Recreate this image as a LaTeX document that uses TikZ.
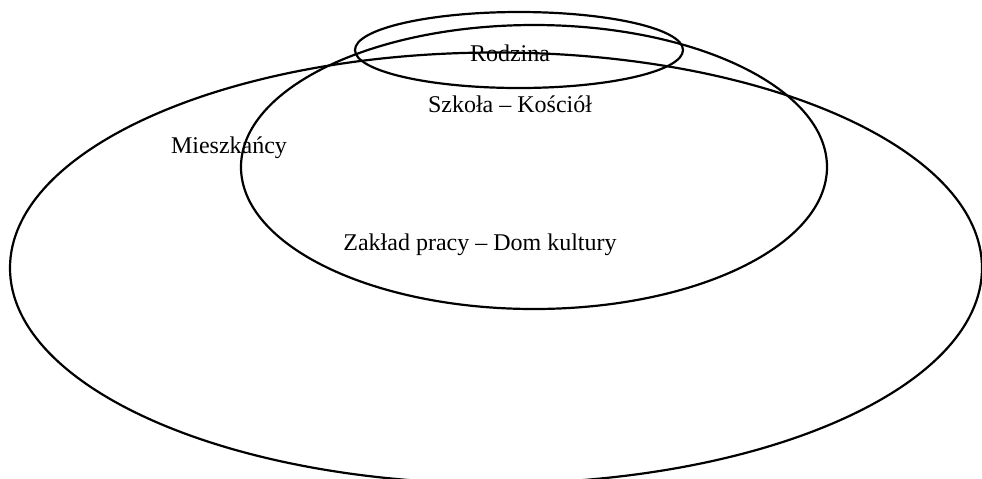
\documentclass[tikz,border=0pt]{standalone}
\usepackage{fontspec}
\setmainfont{Liberation Serif}
\usetikzlibrary{shapes.geometric}

\begin{document}
\begin{tikzpicture}[x=0.5pt,y=-0.5pt,
	ring/.style={draw,ellipse,line width=1.1pt,inner sep=0pt},
	label/.style={font=\fontsize{12}{14}\selectfont,inner sep=0pt}]

\useasboundingbox (0,0) rectangle (982,478);

\node[ring,minimum width=486pt,minimum height=215.5pt]   (mieszk)   at (496,268)   {};
\node[ring,minimum width=293pt,minimum height=142pt]     (szkola)   at (534,167)   {};
\node[ring,minimum width=164pt,minimum height=38pt]      (rodzina)  at (519,50)    {};

\node[label]   (tRodzina)   at (510,53)    {Rodzina};
\node[label]   (tSzkola)    at (510,104)   {Szkoła – Kościół};
\node[label]   (tMieszk)    at (229,148)   {Mieszkańcy};
\node[label]   (tZaklad)    at (480,245)   {Zakład pracy – Dom kultury};

\end{tikzpicture}
\end{document}
